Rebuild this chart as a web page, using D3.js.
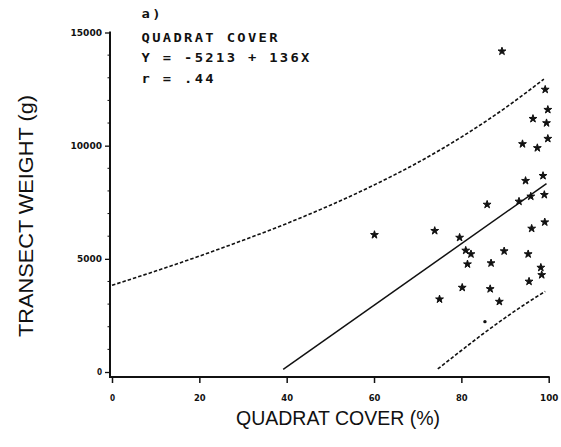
<!DOCTYPE html>
<html>
<head>
<meta charset="utf-8">
<script src="https://cdn.jsdelivr.net/npm/d3@7"></script>
<style>
  html, body { margin: 0; padding: 0; background: #fff; }
  svg { display: block; }
</style>
</head>
<body>
<svg id="chart" width="561" height="447"></svg>
<script>
// Quadrat cover (%) vs transect weight (g)
const coverPct = [89.3, 99.2, 99.8, 96.4, 99.5, 99.8, 94.0, 97.4, 98.7, 94.7,
                  99.0, 95.9, 93.2, 85.9, 99.1, 96.1, 73.9, 60.1, 79.6, 81.0,
                  82.2, 89.8, 95.3, 81.4, 86.8, 98.2, 98.4, 95.5, 80.2, 86.6,
                  75.0, 88.7];
const weightG  = [14170, 12480, 11590, 11190, 11000, 10310, 10075, 9900, 8670, 8450,
                  7830, 7760, 7535, 7400, 6620, 6340, 6240, 6060, 5940, 5370,
                  5210, 5340, 5210, 4765, 4810, 4615, 4290, 4000, 3730, 3670,
                  3215, 3110];
// one observation plotted as a plain dot
const dotCover = [85.4];
const dotWeight = [2225];

// fitted line: Y = -5213 + 136X
const fitIntercept = -5213;
const fitSlope = 136;
const fitRange = [39.2, 99.5];

// dashed interval bands
const upperBandX = [0, 10, 20, 30, 40, 50, 60, 70, 80, 90, 98.9];
const upperBandY = [3830, 4460, 5120, 5820, 6560, 7370, 8260, 9250, 10380, 11660, 12940];
const lowerBandX = [74.6, 80, 85, 90, 95, 99.2];
const lowerBandY = [133, 950, 1690, 2390, 3050, 3560];

const xTicks = [0, 20, 40, 60, 80, 100];
const yTicks = [0, 5000, 10000, 15000];
const yMinorTicks = d3.range(0, 15001, 1000);

const infoLines = ["a)", "QUADRAT COVER", "Y = -5213 + 136X", "r = .44"];
const xTitle = "QUADRAT COVER (%)";
const yTitle = "TRANSECT WEIGHT (g)";

const svg = d3.select("#chart");
const x = d3.scaleLinear().domain([0, 100]).range([112, 548.7]);
const y = d3.scaleLinear().domain([0, 15000]).range([372, 32.5]);

const axisX = 110, axisY = 377;
const ink = "#111";
const tickFont = "'DejaVu Sans', sans-serif";
const monoFont = "'DejaVu Sans Mono', 'Liberation Mono', monospace";

// axes frame lines
svg.append("line").attr("x1", axisX).attr("x2", axisX)
  .attr("y1", y(15000) - 1).attr("y2", axisY + 1)
  .attr("stroke", ink).attr("stroke-width", 2);
svg.append("line").attr("x1", axisX - 1).attr("x2", x(100) + 1)
  .attr("y1", axisY).attr("y2", axisY)
  .attr("stroke", ink).attr("stroke-width", 2);

// y axis: major ticks with labels, minor ticks every 1000
const yAxis = d3.axisLeft(y).tickValues(yTicks).tickSize(5).tickPadding(3)
  .tickFormat(d3.format("d"));
const gy = svg.append("g").attr("transform", `translate(${axisX},0)`).call(yAxis);
gy.select(".domain").remove();
gy.selectAll(".tick line").attr("stroke", ink).attr("stroke-width", 1.3);
gy.selectAll(".tick text")
  .attr("font-family", tickFont).attr("font-weight", "bold")
  .attr("font-size", 8.5).attr("fill", ink)
  .attr("textLength", d => String(d).length * 6.6 - 1.5)
  .attr("lengthAdjust", "spacingAndGlyphs");
svg.append("g").selectAll("line").data(yMinorTicks.filter(v => !yTicks.includes(v)))
  .join("line")
  .attr("x1", axisX - 2.5).attr("x2", axisX)
  .attr("y1", d => y(d)).attr("y2", d => y(d))
  .attr("stroke", ink).attr("stroke-width", 1);

// x axis ticks and labels
const xAxis = d3.axisBottom(x).tickValues(xTicks).tickSize(6).tickPadding(12)
  .tickFormat(d3.format("d"));
const gx = svg.append("g").attr("transform", `translate(0,${axisY})`).call(xAxis);
gx.select(".domain").remove();
gx.selectAll(".tick line").attr("stroke", ink).attr("stroke-width", 1.5);
gx.selectAll(".tick text")
  .attr("font-family", tickFont).attr("font-weight", "bold")
  .attr("font-size", 8.5).attr("fill", ink)
  .attr("textLength", d => String(d).length * 6.6 - 1.5)
  .attr("lengthAdjust", "spacingAndGlyphs");

// interval bands
const band = d3.line().x(d => x(d[0])).y(d => y(d[1])).curve(d3.curveMonotoneX);
svg.append("path")
  .attr("d", band(d3.zip(upperBandX, upperBandY)))
  .attr("fill", "none").attr("stroke", ink).attr("stroke-width", 1.6)
  .attr("stroke-dasharray", "3.5,2");
svg.append("path")
  .attr("d", band(d3.zip(lowerBandX, lowerBandY)))
  .attr("fill", "none").attr("stroke", ink).attr("stroke-width", 1.6)
  .attr("stroke-dasharray", "3.5,2");

// regression line
svg.append("line")
  .attr("x1", x(fitRange[0])).attr("y1", y(fitIntercept + fitSlope * fitRange[0]))
  .attr("x2", x(fitRange[1])).attr("y2", y(fitIntercept + fitSlope * fitRange[1]))
  .attr("stroke", ink).attr("stroke-width", 1.5);

// observations
const star = d3.symbol().type(d3.symbolStar).size(19);
svg.append("g").selectAll("path").data(d3.zip(coverPct, weightG))
  .join("path")
  .attr("transform", d => `translate(${x(d[0])},${y(d[1])})`)
  .attr("d", star)
  .attr("fill", ink).attr("stroke", ink).attr("stroke-width", 1)
  .attr("stroke-linejoin", "round");
svg.append("g").selectAll("circle").data(d3.zip(dotCover, dotWeight))
  .join("circle")
  .attr("cx", d => x(d[0])).attr("cy", d => y(d[1])).attr("r", 1.7)
  .attr("fill", ink);

// annotation block: fixed-pitch plotter lettering
const infoBaselines = [18, 41.7, 61.7, 83.3];
const pitch = 10.65, stretch = 1.2, monoSize = 11.5;
const monoAdvance = 0.602 * monoSize;
svg.append("g")
  .attr("transform", `translate(141.5,0) scale(${stretch},1)`)
  .selectAll("text").data(infoLines)
  .join("text")
  .attr("x", 0).attr("y", (d, i) => infoBaselines[i])
  .attr("font-family", monoFont).attr("font-weight", "bold")
  .attr("font-size", monoSize).attr("fill", ink)
  .attr("letter-spacing", (pitch / stretch) - monoAdvance)
  .attr("xml:space", "preserve")
  .style("white-space", "pre")
  .text(d => d);

// axis titles
svg.append("text")
  .attr("x", 236).attr("y", 425)
  .attr("font-family", "'Liberation Sans', Arial, sans-serif")
  .attr("font-size", 20.5).attr("fill", ink)
  .attr("textLength", 204).attr("lengthAdjust", "spacingAndGlyphs")
  .text(xTitle);
svg.append("text")
  .attr("transform", "translate(33,216) rotate(-90)")
  .attr("text-anchor", "middle")
  .attr("font-family", "'Liberation Sans', Arial, sans-serif")
  .attr("font-size", 20.5).attr("fill", ink)
  .attr("textLength", 242).attr("lengthAdjust", "spacingAndGlyphs")
  .text(yTitle);
</script>
</body>
</html>
